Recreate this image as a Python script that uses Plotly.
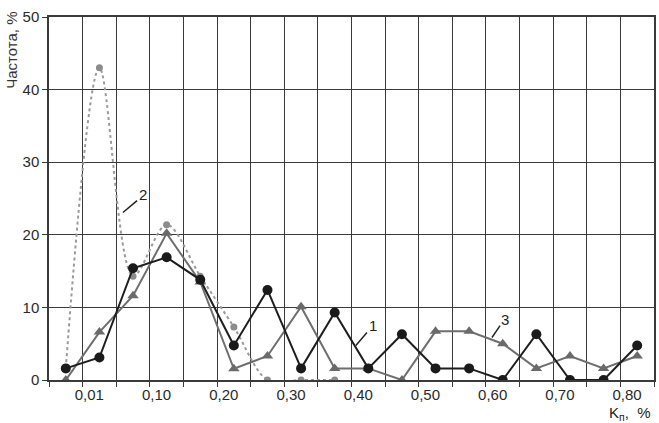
import plotly.graph_objects as go

# bins (index positions) and labels
n_bins = 18
bin_index = list(range(n_bins))
tick_labels = ["0,01", "0,10", "0,20", "0,30", "0,40", "0,50", "0,60", "0,70", "0,80"]

series1 = [1.6, 3.1, 15.4, 16.9, 13.8, 4.75, 12.4, 1.6, 9.3, 1.6, 6.3, 1.6, 1.6, 0, 6.3, 0, 0, 4.75]
series2 = [1.6, 43.0, 14.3, 21.4, 14.3, 7.3, 0, 0, 0]
series3 = [0, 6.6, 11.6, 20.2, 13.5, 1.55, 3.3, 10.1, 1.6, 1.6, 0, 6.7, 6.7, 5.0, 1.6, 3.3, 1.6, 3.3]

FONT = "Arial, Liberation Sans, sans-serif"
GRID = "#3a3a3a"

fig = go.Figure()
fig.add_trace(go.Scatter(
    x=bin_index[:len(series2)], y=series2, mode="lines+markers",
    line=dict(color="#9a9a9a", width=2, dash="dot", shape="spline", smoothing=0.9),
    marker=dict(symbol="circle", size=7, color="#8c8c8c"),
    showlegend=False))
fig.add_trace(go.Scatter(
    x=bin_index, y=series3, mode="lines+markers",
    line=dict(color="#6e6e6e", width=2),
    marker=dict(symbol="triangle-up", size=10, color="#6a6a6a"),
    showlegend=False))
fig.add_trace(go.Scatter(
    x=bin_index, y=series1, mode="lines+markers",
    line=dict(color="#1e1e1e", width=2),
    marker=dict(symbol="circle", size=10, color="#1a1a1a"),
    showlegend=False))

grid_vals = [i - 0.5 for i in range(n_bins + 1)]
label_vals = [1 + 2 * k - 0.3 for k in range(len(tick_labels))]

fig.update_xaxes(
    range=[-0.5, n_bins - 0.5], automargin=False,
    tickvals=label_vals, ticktext=tick_labels, ticks="",
    showgrid=False, zeroline=False,
    showline=True, linecolor=GRID, linewidth=1.5, mirror=True,
    tickfont=dict(family=FONT, size=15, color="#2a2a2a"),
    minor=dict(tickvals=grid_vals, showgrid=True, gridcolor=GRID, gridwidth=1.3,
               ticks="outside", ticklen=5, tickcolor=GRID, tickwidth=1.3),
)
fig.update_yaxes(
    range=[0, 50], automargin=False,
    tickvals=[0, 10, 20, 30, 40, 50], ticks="outside", ticklen=5,
    tickcolor=GRID, tickwidth=1.3,
    showgrid=True, gridcolor=GRID, gridwidth=1.3, zeroline=False,
    showline=True, linecolor=GRID, linewidth=1.5, mirror=True,
    tickfont=dict(family=FONT, size=15, color="#2a2a2a"),
)

ann_font = dict(family=FONT, size=15, color="#222")
leaders = [
    ((1.70, 23.07), (2.12, 24.7), "2", (2.30, 25.5)),
    ((8.63, 4.75), (8.96, 6.54), "1", (9.14, 7.5)),
    ((12.68, 5.85), (12.92, 7.5), "3", (13.06, 8.3)),
]
for (x0, y0), (x1, y1), txt, (tx, ty) in leaders:
    fig.add_shape(type="line", x0=x0, y0=y0, x1=x1, y1=y1, xref="x", yref="y",
                  line=dict(color="#222", width=1.5))
    fig.add_annotation(x=tx, y=ty, xref="x", yref="y", text=txt, showarrow=False,
                       font=ann_font)

fig.add_annotation(x=16.8, y=-0.092, xref="x", yref="paper", yanchor="middle",
                   text="K<sub>п</sub>,  %", showarrow=False, font=ann_font)
fig.add_annotation(x=-0.062, y=1.02, xref="paper", yref="paper", xanchor="center",
                   yanchor="top", text="Частота, %", textangle=-90, showarrow=False,
                   font=dict(family=FONT, size=15, color="#333"))

fig.update_layout(
    width=659, height=423,
    margin=dict(l=49, r=5, t=17, b=43),
    paper_bgcolor="white", plot_bgcolor="white",
)

fig.write_html("out.html", config={"displayModeBar": False},
               post_script="document.body.style.margin='0';document.body.style.overflow='hidden';")
